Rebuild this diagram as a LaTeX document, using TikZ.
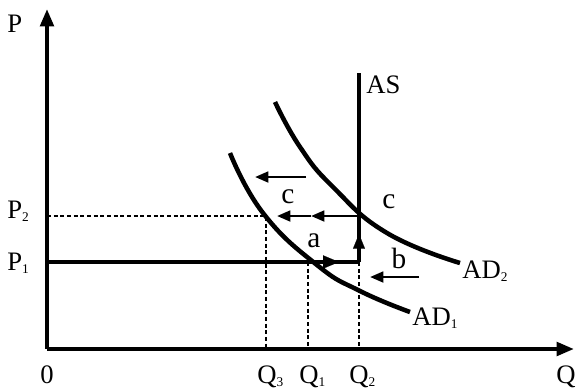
\documentclass[tikz,border=0pt]{standalone}
\usepackage{fontspec}
\setmainfont{Liberation Serif}
\usetikzlibrary{arrows.meta}
\newcommand{\lowsub}[1]{\raisebox{-0.25ex}{\fontsize{10}{10}\selectfont #1}}
\tikzset{
  axis/.style={line width=3pt,-{Triangle[length=13pt,width=10pt]}},
  curve/.style={line width=3.4pt},
  guide/.style={line width=1.3pt,dash pattern=on 3pt off 2pt},
  movearrow/.style={line width=2pt,-{Triangle[length=10pt,width=8pt]}},
  lbl/.style={font=\fontsize{20}{22}\selectfont,inner sep=0pt},
  lowl/.style={font=\fontsize{22}{24}\selectfont,inner sep=0pt,anchor=base},
}
\begin{document}
\begin{tikzpicture}[x=0.75pt,y=-0.75pt]
\useasboundingbox (0,0) rectangle (582,390);
% coordinates
\coordinate (O) at (47,349);
\coordinate (Ptop) at (47,9);
\coordinate (Qend) at (574,349);
\coordinate (P1) at (47,262);
\coordinate (P2) at (47,216);
\coordinate (E1) at (359,262);
\coordinate (AStop) at (359,73);
\coordinate (Q2b) at (359,349);
\coordinate (E2) at (359,216);
\coordinate (X3) at (266,216);
\coordinate (Q3b) at (266,349);
\coordinate (X1) at (308,262);
\coordinate (Q1b) at (308,349);
% axes
\draw[axis] (O) -- (Ptop);
\draw[axis] (O) -- (Qend);
% dashed guides
\draw[guide] (P2) -- (X3) -- (Q3b);
\draw[guide] (X1) -- (Q1b);
\draw[guide] (E1) -- (Q2b);
% P1 line and AS
\draw[line width=3.6pt] (P1) -- (E1);
\draw[line width=3.4pt] (E1) -- (AStop);
\coordinate (Rtip) at (339,262);
\draw[line width=0.1pt,-{Triangle[length=12pt,width=10pt]}] (320,262) -- (Rtip);
\coordinate (Utip) at (359,234);
\draw[line width=0.1pt,-{Triangle[length=11pt,width=9pt]}] (359,250) -- (Utip);
% AD curves
\draw[curve] plot[smooth,tension=0.8] coordinates {(275,102) (300,147) (333,187) (387,233) (460,263)};
\draw[curve] plot[smooth,tension=0.8] coordinates {(230,153) (263,213) (317,265) (360,291) (410,312)};
% shift arrows
\coordinate (Mid) at (311,216);
\coordinate (Left) at (277,216);
\draw[movearrow] (E2) -- (Mid);
\draw[movearrow] (Mid) -- (Left);
\coordinate (cs) at (306,177);
\coordinate (ce) at (255,177);
\draw[movearrow] (cs) -- (ce);
\coordinate (bs) at (419,277);
\coordinate (be) at (370,277);
\draw[movearrow] (bs) -- (be);
% labels
\node[lbl,anchor=base west] (lP) at (7,32) {P};
\node[lbl,anchor=base west] (lQ) at (556,383) {Q};
\node[lbl,anchor=base] (l0) at (47,383) {0};
\node[lbl,anchor=base west] (lP2) at (7,218) {P\lowsub{2}};
\node[lbl,anchor=base west] (lP1) at (7,270) {P\lowsub{1}};
\node[lbl,anchor=base west] (lQ3) at (257,383) {Q\lowsub{3}};
\node[lbl,anchor=base west] (lQ1) at (299,383) {Q\lowsub{1}};
\node[lbl,anchor=base west] (lQ2) at (349,383) {Q\lowsub{2}};
\node[lbl,anchor=base west] (lAS) at (366,93) {AS};
\node[lbl,anchor=base west] (lAD2) at (462,278) {AD\lowsub{2}};
\node[lbl,anchor=base west] (lAD1) at (412,325) {AD\lowsub{1}};
\node[lowl] (lc1) at (288,203) {c};
\node[lowl] (lc2) at (389,208) {c};
\node[lowl] (la) at (314,247) {a};
\node[lowl] (lb) at (399,268) {b};
\end{tikzpicture}
\end{document}
